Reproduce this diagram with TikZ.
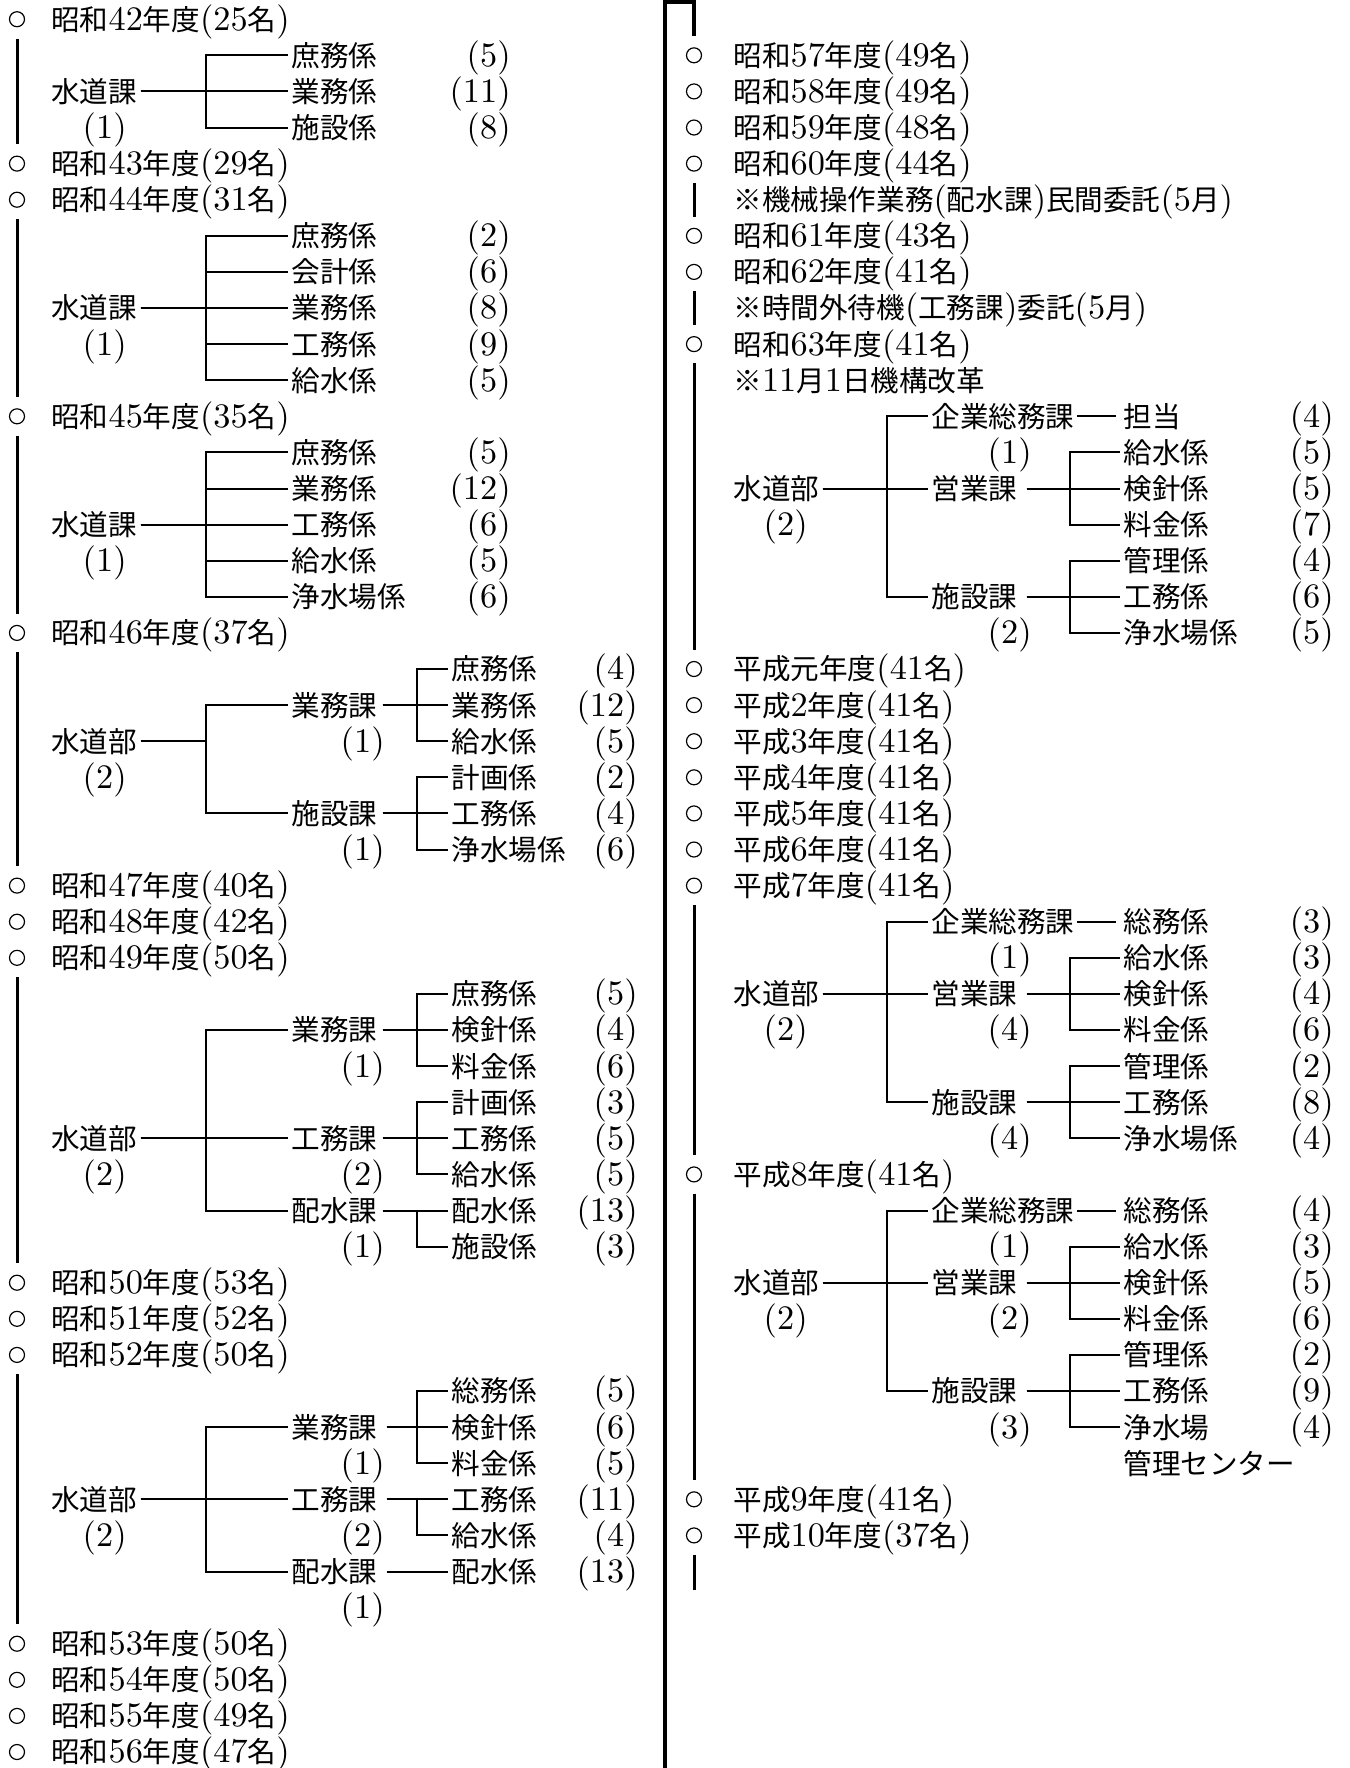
\documentclass[tikz,border=0pt]{standalone}
\usepackage{fontspec}
\setmainfont{lmroman10-regular.otf}[Scale=1.2]
\newfontfamily\cjk{Noto Sans CJK JP}
\usepackage{tikz}
% Japanese letters switch to \cjk by themselves
\XeTeXinterchartokenstate=1
\newXeTeXintercharclass\jcls
\newcount\jc
\def\jrange#1#2{\jc=#1\relax
  \loop\XeTeXcharclass\jc=\jcls\relax
  \ifnum\jc<#2\relax\advance\jc by 1\relax\repeat}
\jrange{"3000}{"30FF}
\jrange{"4E00}{"9FFF}
\jrange{"FF00}{"FFEF}
\XeTeXcharclass"203B=\jcls
\XeTeXinterchartoks 0 \jcls={\cjk}
\XeTeXinterchartoks 4095 \jcls={\cjk}
\XeTeXinterchartoks \jcls 0={\rmfamily}
\newcommand{\fs}{\fontsize{14.3pt}{17pt}\selectfont}
\tikzstyle{every node}+=[inner sep=0pt, font=\fs, text height=12.6pt, text depth=1.7pt]
\tikzstyle{maru} = [circle, draw, line width=0.6pt, minimum size=7.5pt, text height=0pt, text depth=0pt]
\tikzstyle{nendo} = [anchor=west]
\tikzstyle{ka} = [anchor=west]
\tikzstyle{nin} = [anchor=east]
\tikzstyle{line} = [draw, line width=1pt, shorten <=1.5pt, shorten >=1.5pt]
\tikzstyle{line1} = [line, shorten <=2.5pt]
\tikzstyle{line2} = [line, shorten <=4.5pt]
\tikzstyle{line3} = [line, shorten <=1pt, shorten >=3.5pt]
\tikzstyle{jiku} = [draw, line width=1.5pt, shorten <=5.6pt, shorten >=5.6pt]
\tikzstyle{waku} = [draw, line width=2pt]

\begin{document}
\begin{tikzpicture}[x=0.5pt, y=-18.05pt]
\useasboundingbox (0,-0.532) rectangle (1350,48.443);
% Branch columns
\coordinate (lb1) at (206,0);
\coordinate (lb2) at (417,0);
\coordinate (rb1) at (887,0);
\coordinate (rb2) at (1070,0);
\coordinate (ue) at (694,-0.476);
\coordinate (soko) at (665,48.7);
\coordinate (tail) at (694,43.5);

% Place nodes: years, left column
\node [maru] (o42) at (17,0) {};
\node [nendo] (t42) at (51,0) {昭和42年度(25名)};
\node [maru] (o43) at (17,4) {};
\node [nendo] (t43) at (51,4) {昭和43年度(29名)};
\node [maru] (o44) at (17,5) {};
\node [nendo] (t44) at (51,5) {昭和44年度(31名)};
\node [maru] (o45) at (17,11) {};
\node [nendo] (t45) at (51,11) {昭和45年度(35名)};
\node [maru] (o46) at (17,17) {};
\node [nendo] (t46) at (51,17) {昭和46年度(37名)};
\node [maru] (o47) at (17,24) {};
\node [nendo] (t47) at (51,24) {昭和47年度(40名)};
\node [maru] (o48) at (17,25) {};
\node [nendo] (t48) at (51,25) {昭和48年度(42名)};
\node [maru] (o49) at (17,26) {};
\node [nendo] (t49) at (51,26) {昭和49年度(50名)};
\node [maru] (o50) at (17,35) {};
\node [nendo] (t50) at (51,35) {昭和50年度(53名)};
\node [maru] (o51) at (17,36) {};
\node [nendo] (t51) at (51,36) {昭和51年度(52名)};
\node [maru] (o52) at (17,37) {};
\node [nendo] (t52) at (51,37) {昭和52年度(50名)};
\node [maru] (o53) at (17,45) {};
\node [nendo] (t53) at (51,45) {昭和53年度(50名)};
\node [maru] (o54) at (17,46) {};
\node [nendo] (t54) at (51,46) {昭和54年度(50名)};
\node [maru] (o55) at (17,47) {};
\node [nendo] (t55) at (51,47) {昭和55年度(49名)};
\node [maru] (o56) at (17,48) {};
\node [nendo] (t56) at (51,48) {昭和56年度(47名)};

% Place nodes: years, right column
\node [maru] (o57) at (694,1) {};
\node [nendo] (t57) at (733,1) {昭和57年度(49名)};
\node [maru] (o58) at (694,2) {};
\node [nendo] (t58) at (733,2) {昭和58年度(49名)};
\node [maru] (o59) at (694,3) {};
\node [nendo] (t59) at (733,3) {昭和59年度(48名)};
\node [maru] (o60) at (694,4) {};
\node [nendo] (t60) at (733,4) {昭和60年度(44名)};
\node [nendo] (m60) at (733,5) {※機械操作業務(配水課)民間委託(5月)};
\node [maru] (o61) at (694,6) {};
\node [nendo] (t61) at (733,6) {昭和61年度(43名)};
\node [maru] (o62) at (694,7) {};
\node [nendo] (t62) at (733,7) {昭和62年度(41名)};
\node [nendo] (m62) at (733,8) {※時間外待機(工務課)委託(5月)};
\node [maru] (o63) at (694,9) {};
\node [nendo] (t63) at (733,9) {昭和63年度(41名)};
\node [nendo] (m63) at (733,10) {※11月1日機構改革};
\node [maru] (oh1) at (694,18) {};
\node [nendo] (th1) at (733,18) {平成元年度(41名)};
\node [maru] (oh2) at (694,19) {};
\node [nendo] (th2) at (733,19) {平成2年度(41名)};
\node [maru] (oh3) at (694,20) {};
\node [nendo] (th3) at (733,20) {平成3年度(41名)};
\node [maru] (oh4) at (694,21) {};
\node [nendo] (th4) at (733,21) {平成4年度(41名)};
\node [maru] (oh5) at (694,22) {};
\node [nendo] (th5) at (733,22) {平成5年度(41名)};
\node [maru] (oh6) at (694,23) {};
\node [nendo] (th6) at (733,23) {平成6年度(41名)};
\node [maru] (oh7) at (694,24) {};
\node [nendo] (th7) at (733,24) {平成7年度(41名)};
\node [maru] (oh8) at (694,32) {};
\node [nendo] (th8) at (733,32) {平成8年度(41名)};
\node [maru] (oh9) at (694,41) {};
\node [nendo] (th9) at (733,41) {平成9年度(41名)};
\node [maru] (oh10) at (694,42) {};
\node [nendo] (th10) at (733,42) {平成10年度(37名)};

% Place nodes: S42
\node [ka] (sd42) at (51,2) {水道課};
\node [nin] (sd42n) at (127,3) {(1)};
\node [ka] (k42a) at (291,1) {庶務係};
\node [nin] (n42a) at (511,1) {(5)};
\node [ka] (k42b) at (291,2) {業務係};
\node [nin] (n42b) at (511,2) {(11)};
\node [ka] (k42c) at (291,3) {施設係};
\node [nin] (n42c) at (511,3) {(8)};
% Place nodes: S44
\node [ka] (sd44) at (51,8) {水道課};
\node [nin] (sd44n) at (127,9) {(1)};
\node [ka] (k44a) at (291,6) {庶務係};
\node [nin] (n44a) at (511,6) {(2)};
\node [ka] (k44b) at (291,7) {会計係};
\node [nin] (n44b) at (511,7) {(6)};
\node [ka] (k44c) at (291,8) {業務係};
\node [nin] (n44c) at (511,8) {(8)};
\node [ka] (k44d) at (291,9) {工務係};
\node [nin] (n44d) at (511,9) {(9)};
\node [ka] (k44e) at (291,10) {給水係};
\node [nin] (n44e) at (511,10) {(5)};
% Place nodes: S45
\node [ka] (sd45) at (51,14) {水道課};
\node [nin] (sd45n) at (127,15) {(1)};
\node [ka] (k45a) at (291,12) {庶務係};
\node [nin] (n45a) at (511,12) {(5)};
\node [ka] (k45b) at (291,13) {業務係};
\node [nin] (n45b) at (511,13) {(12)};
\node [ka] (k45c) at (291,14) {工務係};
\node [nin] (n45c) at (511,14) {(6)};
\node [ka] (k45d) at (291,15) {給水係};
\node [nin] (n45d) at (511,15) {(5)};
\node [ka] (k45e) at (291,16) {浄水場係};
\node [nin] (n45e) at (511,16) {(6)};
% Place nodes: S46
\node [ka] (bu46) at (51,20) {水道部};
\node [nin] (bu46n) at (127,21) {(2)};
\node [ka] (gy46) at (291,19) {業務課};
\node [nin] (gy46n) at (385,20) {(1)};
\node [ka] (sh46) at (291,22) {施設課};
\node [nin] (sh46n) at (385,23) {(1)};
\node [ka] (k46a) at (451,18) {庶務係};
\node [nin] (n46a) at (638,18) {(4)};
\node [ka] (k46b) at (451,19) {業務係};
\node [nin] (n46b) at (638,19) {(12)};
\node [ka] (k46c) at (451,20) {給水係};
\node [nin] (n46c) at (638,20) {(5)};
\node [ka] (k46d) at (451,21) {計画係};
\node [nin] (n46d) at (638,21) {(2)};
\node [ka] (k46e) at (451,22) {工務係};
\node [nin] (n46e) at (638,22) {(4)};
\node [ka] (k46f) at (451,23) {浄水場係};
\node [nin] (n46f) at (638,23) {(6)};
% Place nodes: S49
\node [ka] (bu49) at (51,31) {水道部};
\node [nin] (bu49n) at (127,32) {(2)};
\node [ka] (gy49) at (291,28) {業務課};
\node [nin] (gy49n) at (385,29) {(1)};
\node [ka] (km49) at (291,31) {工務課};
\node [nin] (km49n) at (385,32) {(2)};
\node [ka] (hs49) at (291,33) {配水課};
\node [nin] (hs49n) at (385,34) {(1)};
\node [ka] (k49a) at (451,27) {庶務係};
\node [nin] (n49a) at (638,27) {(5)};
\node [ka] (k49b) at (451,28) {検針係};
\node [nin] (n49b) at (638,28) {(4)};
\node [ka] (k49c) at (451,29) {料金係};
\node [nin] (n49c) at (638,29) {(6)};
\node [ka] (k49d) at (451,30) {計画係};
\node [nin] (n49d) at (638,30) {(3)};
\node [ka] (k49e) at (451,31) {工務係};
\node [nin] (n49e) at (638,31) {(5)};
\node [ka] (k49f) at (451,32) {給水係};
\node [nin] (n49f) at (638,32) {(5)};
\node [ka] (k49g) at (451,33) {配水係};
\node [nin] (n49g) at (638,33) {(13)};
\node [ka] (k49h) at (451,34) {施設係};
\node [nin] (n49h) at (638,34) {(3)};
% Place nodes: S52
\node [ka] (bu52) at (51,41) {水道部};
\node [nin] (bu52n) at (127,42) {(2)};
\node [ka] (gy52) at (291,39) {業務課};
\node [nin] (gy52n) at (385,40) {(1)};
\node [ka] (km52) at (291,41) {工務課};
\node [nin] (km52n) at (385,42) {(2)};
\node [ka] (hs52) at (291,43) {配水課};
\node [nin] (hs52n) at (385,44) {(1)};
\node [ka] (k52a) at (451,38) {総務係};
\node [nin] (n52a) at (638,38) {(5)};
\node [ka] (k52b) at (451,39) {検針係};
\node [nin] (n52b) at (638,39) {(6)};
\node [ka] (k52c) at (451,40) {料金係};
\node [nin] (n52c) at (638,40) {(5)};
\node [ka] (k52d) at (451,41) {工務係};
\node [nin] (n52d) at (638,41) {(11)};
\node [ka] (k52e) at (451,42) {給水係};
\node [nin] (n52e) at (638,42) {(4)};
\node [ka] (k52f) at (451,43) {配水係};
\node [nin] (n52f) at (638,43) {(13)};
% Place nodes: S63
\node [ka] (bu63) at (733,13) {水道部};
\node [nin] (bu63n) at (808,14) {(2)};
\node [ka] (ks63) at (931,11) {企業総務課};
\node [nin] (ks63n) at (1032,12) {(1)};
\node [ka] (ey63) at (931,13) {営業課};
\node [ka] (sh63) at (931,16) {施設課};
\node [nin] (sh63n) at (1032,17) {(2)};
\node [ka] (k63a) at (1123,11) {担当};
\node [nin] (n63a) at (1334,11) {(4)};
\node [ka] (k63b) at (1123,12) {給水係};
\node [nin] (n63b) at (1334,12) {(5)};
\node [ka] (k63c) at (1123,13) {検針係};
\node [nin] (n63c) at (1334,13) {(5)};
\node [ka] (k63d) at (1123,14) {料金係};
\node [nin] (n63d) at (1334,14) {(7)};
\node [ka] (k63e) at (1123,15) {管理係};
\node [nin] (n63e) at (1334,15) {(4)};
\node [ka] (k63f) at (1123,16) {工務係};
\node [nin] (n63f) at (1334,16) {(6)};
\node [ka] (k63g) at (1123,17) {浄水場係};
\node [nin] (n63g) at (1334,17) {(5)};
% Place nodes: H7
\node [ka] (buh7) at (733,27) {水道部};
\node [nin] (buh7n) at (808,28) {(2)};
\node [ka] (ksh7) at (931,25) {企業総務課};
\node [nin] (ksh7n) at (1032,26) {(1)};
\node [ka] (eyh7) at (931,27) {営業課};
\node [nin] (eyh7n) at (1032,28) {(4)};
\node [ka] (shh7) at (931,30) {施設課};
\node [nin] (shh7n) at (1032,31) {(4)};
\node [ka] (kh7a) at (1123,25) {総務係};
\node [nin] (nh7a) at (1334,25) {(3)};
\node [ka] (kh7b) at (1123,26) {給水係};
\node [nin] (nh7b) at (1334,26) {(3)};
\node [ka] (kh7c) at (1123,27) {検針係};
\node [nin] (nh7c) at (1334,27) {(4)};
\node [ka] (kh7d) at (1123,28) {料金係};
\node [nin] (nh7d) at (1334,28) {(6)};
\node [ka] (kh7e) at (1123,29) {管理係};
\node [nin] (nh7e) at (1334,29) {(2)};
\node [ka] (kh7f) at (1123,30) {工務係};
\node [nin] (nh7f) at (1334,30) {(8)};
\node [ka] (kh7g) at (1123,31) {浄水場係};
\node [nin] (nh7g) at (1334,31) {(4)};
% Place nodes: H8
\node [ka] (buh8) at (733,35) {水道部};
\node [nin] (buh8n) at (808,36) {(2)};
\node [ka] (ksh8) at (931,33) {企業総務課};
\node [nin] (ksh8n) at (1032,34) {(1)};
\node [ka] (eyh8) at (931,35) {営業課};
\node [nin] (eyh8n) at (1032,36) {(2)};
\node [ka] (shh8) at (931,38) {施設課};
\node [nin] (shh8n) at (1032,39) {(3)};
\node [ka] (kh8a) at (1123,33) {総務係};
\node [nin] (nh8a) at (1334,33) {(4)};
\node [ka] (kh8b) at (1123,34) {給水係};
\node [nin] (nh8b) at (1334,34) {(3)};
\node [ka] (kh8c) at (1123,35) {検針係};
\node [nin] (nh8c) at (1334,35) {(5)};
\node [ka] (kh8d) at (1123,36) {料金係};
\node [nin] (nh8d) at (1334,36) {(6)};
\node [ka] (kh8e) at (1123,37) {管理係};
\node [nin] (nh8e) at (1334,37) {(2)};
\node [ka] (kh8f) at (1123,38) {工務係};
\node [nin] (nh8f) at (1334,38) {(9)};
\node [ka] (kh8g) at (1123,39) {浄水場};
\node [nin] (nh8g) at (1334,39) {(4)};
\node [ka] (kh8h) at (1123,40) {管理センター};

% Draw time lines
\path [waku, shorten >=5.6pt] (soko) |- (ue) -- (o57);
\path [jiku] (o42) -- (o43);
\path [jiku] (o44) -- (o45);
\path [jiku] (o45) -- (o46);
\path [jiku] (o46) -- (o47);
\path [jiku] (o49) -- (o50);
\path [jiku] (o52) -- (o53);
\path [jiku] (o60) -- (o61);
\path [jiku] (o62) -- (o63);
\path [jiku] (o63) -- (oh1);
\path [jiku] (oh7) -- (oh8);
\path [jiku] (oh8) -- (oh9);
\path [jiku, shorten >=0pt] (oh10) -- (tail);

% Draw edges: left column
\path [line] (sd42.east) -- (sd42.east -| lb1) |- (k42a.west);
\path [line] (sd42.east) -- (sd42.east -| lb1) |- (k42b.west);
\path [line] (sd42.east) -- (sd42.east -| lb1) |- (k42c.west);
\path [line] (sd44.east) -- (sd44.east -| lb1) |- (k44a.west);
\path [line] (sd44.east) -- (sd44.east -| lb1) |- (k44b.west);
\path [line] (sd44.east) -- (sd44.east -| lb1) |- (k44c.west);
\path [line] (sd44.east) -- (sd44.east -| lb1) |- (k44d.west);
\path [line] (sd44.east) -- (sd44.east -| lb1) |- (k44e.west);
\path [line] (sd45.east) -- (sd45.east -| lb1) |- (k45a.west);
\path [line] (sd45.east) -- (sd45.east -| lb1) |- (k45b.west);
\path [line] (sd45.east) -- (sd45.east -| lb1) |- (k45c.west);
\path [line] (sd45.east) -- (sd45.east -| lb1) |- (k45d.west);
\path [line] (sd45.east) -- (sd45.east -| lb1) |- (k45e.west);
\path [line] (bu46.east) -- (bu46.east -| lb1) |- (gy46.west);
\path [line] (bu46.east) -- (bu46.east -| lb1) |- (sh46.west);
\path [line1] (gy46.east) -- (gy46.east -| lb2) |- (k46a.west);
\path [line1] (gy46.east) -- (gy46.east -| lb2) |- (k46b.west);
\path [line1] (gy46.east) -- (gy46.east -| lb2) |- (k46c.west);
\path [line1] (sh46.east) -- (sh46.east -| lb2) |- (k46d.west);
\path [line1] (sh46.east) -- (sh46.east -| lb2) |- (k46e.west);
\path [line1] (sh46.east) -- (sh46.east -| lb2) |- (k46f.west);
\path [line] (bu49.east) -- (bu49.east -| lb1) |- (gy49.west);
\path [line] (bu49.east) -- (bu49.east -| lb1) |- (km49.west);
\path [line] (bu49.east) -- (bu49.east -| lb1) |- (hs49.west);
\path [line1] (gy49.east) -- (gy49.east -| lb2) |- (k49a.west);
\path [line1] (gy49.east) -- (gy49.east -| lb2) |- (k49b.west);
\path [line1] (gy49.east) -- (gy49.east -| lb2) |- (k49c.west);
\path [line1] (km49.east) -- (km49.east -| lb2) |- (k49d.west);
\path [line1] (km49.east) -- (km49.east -| lb2) |- (k49e.west);
\path [line1] (km49.east) -- (km49.east -| lb2) |- (k49f.west);
\path [line1] (hs49.east) -- (hs49.east -| lb2) |- (k49g.west);
\path [line1] (hs49.east) -- (hs49.east -| lb2) |- (k49h.west);
\path [line] (bu52.east) -- (bu52.east -| lb1) |- (gy52.west);
\path [line] (bu52.east) -- (bu52.east -| lb1) |- (km52.west);
\path [line] (bu52.east) -- (bu52.east -| lb1) |- (hs52.west);
\path [line2] (gy52.east) -- (gy52.east -| lb2) |- (k52a.west);
\path [line2] (gy52.east) -- (gy52.east -| lb2) |- (k52b.west);
\path [line2] (gy52.east) -- (gy52.east -| lb2) |- (k52c.west);
\path [line2] (km52.east) -- (km52.east -| lb2) |- (k52d.west);
\path [line2] (km52.east) -- (km52.east -| lb2) |- (k52e.west);
\path [line2] (hs52.east) -- (k52f.west);

% Draw edges: right column
\path [line] (bu63.east) -- (bu63.east -| rb1) |- (ks63.west);
\path [line] (bu63.east) -- (bu63.east -| rb1) |- (ey63.west);
\path [line] (bu63.east) -- (bu63.east -| rb1) |- (sh63.west);
\path [line3] (ks63.east) -- (k63a.west);
\path [line2] (ey63.east) -- (ey63.east -| rb2) |- (k63b.west);
\path [line2] (ey63.east) -- (ey63.east -| rb2) |- (k63c.west);
\path [line2] (ey63.east) -- (ey63.east -| rb2) |- (k63d.west);
\path [line2] (sh63.east) -- (sh63.east -| rb2) |- (k63e.west);
\path [line2] (sh63.east) -- (sh63.east -| rb2) |- (k63f.west);
\path [line2] (sh63.east) -- (sh63.east -| rb2) |- (k63g.west);
\path [line] (buh7.east) -- (buh7.east -| rb1) |- (ksh7.west);
\path [line] (buh7.east) -- (buh7.east -| rb1) |- (eyh7.west);
\path [line] (buh7.east) -- (buh7.east -| rb1) |- (shh7.west);
\path [line3] (ksh7.east) -- (kh7a.west);
\path [line2] (eyh7.east) -- (eyh7.east -| rb2) |- (kh7b.west);
\path [line2] (eyh7.east) -- (eyh7.east -| rb2) |- (kh7c.west);
\path [line2] (eyh7.east) -- (eyh7.east -| rb2) |- (kh7d.west);
\path [line2] (shh7.east) -- (shh7.east -| rb2) |- (kh7e.west);
\path [line2] (shh7.east) -- (shh7.east -| rb2) |- (kh7f.west);
\path [line2] (shh7.east) -- (shh7.east -| rb2) |- (kh7g.west);
\path [line] (buh8.east) -- (buh8.east -| rb1) |- (ksh8.west);
\path [line] (buh8.east) -- (buh8.east -| rb1) |- (eyh8.west);
\path [line] (buh8.east) -- (buh8.east -| rb1) |- (shh8.west);
\path [line3] (ksh8.east) -- (kh8a.west);
\path [line2] (eyh8.east) -- (eyh8.east -| rb2) |- (kh8b.west);
\path [line2] (eyh8.east) -- (eyh8.east -| rb2) |- (kh8c.west);
\path [line2] (eyh8.east) -- (eyh8.east -| rb2) |- (kh8d.west);
\path [line2] (shh8.east) -- (shh8.east -| rb2) |- (kh8e.west);
\path [line2] (shh8.east) -- (shh8.east -| rb2) |- (kh8f.west);
\path [line2] (shh8.east) -- (shh8.east -| rb2) |- (kh8g.west);
\end{tikzpicture}
\end{document}
